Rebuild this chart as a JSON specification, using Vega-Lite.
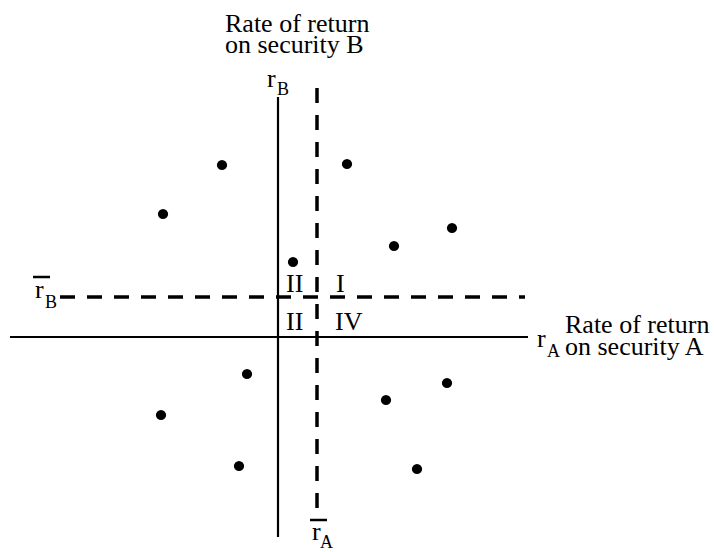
{
  "$schema": "https://vega.github.io/schema/vega-lite/v6.json",
  "autosize": {"type": "fit", "contains": "padding"},
  "padding": 0,
  "width": 714,
  "height": 552,
  "background": "white",
  "config": {"view": {"stroke": null}},
  "datasets": {
    "segments": [
      {"kind": "axis", "x": -26.8, "y": 0, "x2": 25.0, "y2": 0},
      {"kind": "axis", "x": 0, "y": 24.0, "x2": 0, "y2": -20.0},
      {"kind": "mean", "x": 3.9, "y": 24.9, "x2": 3.9, "y2": -17.5},
      {"kind": "mean", "x": -21.8, "y": 4.0, "x2": 24.7, "y2": 4.0},
      {"kind": "bar", "x": -24.5, "y": 6.0, "x2": -22.8, "y2": 6.0},
      {"kind": "bar", "x": 3.2, "y": -18.3, "x2": 4.9, "y2": -18.3}
    ],
    "dots": [
      {"x": -5.6, "y": 17.2},
      {"x": 6.9, "y": 17.3},
      {"x": -11.5, "y": 12.3},
      {"x": 17.4, "y": 10.9},
      {"x": 11.6, "y": 9.1},
      {"x": 1.5, "y": 7.5},
      {"x": -3.1, "y": -3.7},
      {"x": 16.9, "y": -4.6},
      {"x": -11.7, "y": -7.8},
      {"x": 10.8, "y": -6.3},
      {"x": -3.9, "y": -12.9},
      {"x": 13.9, "y": -13.2}
    ],
    "labels": [
      {"kind": "main", "x": -5.3, "y": 30.5, "text": "Rate of return"},
      {"kind": "main", "x": -5.3, "y": 28.4, "text": "on security B"},
      {"kind": "main", "x": -1.1, "y": 25.0, "text": "r"},
      {"kind": "main", "x": -24.3, "y": 3.9, "text": "r"},
      {"kind": "main", "x": 3.4, "y": -20.3, "text": "r"},
      {"kind": "main", "x": 25.9, "y": -1.0, "text": "r"},
      {"kind": "main", "x": 0.8, "y": 4.5, "text": "II"},
      {"kind": "main", "x": 5.8, "y": 4.5, "text": "I"},
      {"kind": "main", "x": 0.8, "y": 0.7, "text": "II"},
      {"kind": "main", "x": 5.7, "y": 0.7, "text": "IV"},
      {"kind": "main", "x": 28.7, "y": 0.4, "text": "Rate of return"},
      {"kind": "main", "x": 28.7, "y": -1.8, "text": "on security A"},
      {"kind": "sub", "x": -0.1, "y": 24.2, "text": "B"},
      {"kind": "sub", "x": -23.3, "y": 2.9, "text": "B"},
      {"kind": "sub", "x": 4.2, "y": -21.1, "text": "A"},
      {"kind": "sub", "x": 26.9, "y": -2.0, "text": "A"}
    ]
  },
  "encoding": {
    "x": {"field": "x", "type": "quantitative", "axis": null, "scale": {"domain": [-27.8, 43.6], "nice": false, "zero": false}},
    "y": {"field": "y", "type": "quantitative", "axis": null, "scale": {"domain": [-21.5, 33.7], "nice": false, "zero": false}}
  },
  "layer": [
    {
      "data": {"name": "segments"},
      "transform": [{"filter": "datum.kind === 'axis'"}],
      "mark": {"type": "rule", "color": "black", "strokeWidth": 2.2},
      "encoding": {"x2": {"field": "x2"}, "y2": {"field": "y2"}}
    },
    {
      "data": {"name": "segments"},
      "transform": [{"filter": "datum.kind === 'mean'"}],
      "mark": {"type": "rule", "color": "black", "strokeWidth": 3.5, "strokeDash": [15, 12]},
      "encoding": {"x2": {"field": "x2"}, "y2": {"field": "y2"}}
    },
    {
      "data": {"name": "segments"},
      "transform": [{"filter": "datum.kind === 'bar'"}],
      "mark": {"type": "rule", "color": "black", "strokeWidth": 2.5},
      "encoding": {"x2": {"field": "x2"}, "y2": {"field": "y2"}}
    },
    {
      "data": {"name": "dots"},
      "mark": {"type": "point", "filled": true, "color": "black", "opacity": 1, "size": 105, "shape": "circle"}
    },
    {
      "data": {"name": "labels"},
      "transform": [{"filter": "datum.kind === 'main'"}],
      "mark": {"type": "text", "align": "left", "baseline": "alphabetic", "font": "Liberation Serif", "fontSize": 26, "color": "black"},
      "encoding": {"text": {"field": "text"}}
    },
    {
      "data": {"name": "labels"},
      "transform": [{"filter": "datum.kind === 'sub'"}],
      "mark": {"type": "text", "align": "left", "baseline": "alphabetic", "font": "Liberation Serif", "fontSize": 18, "color": "black"},
      "encoding": {"text": {"field": "text"}}
    }
  ]
}
